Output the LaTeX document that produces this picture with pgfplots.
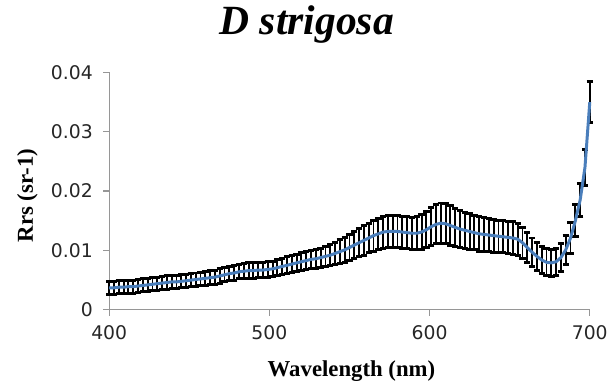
\documentclass[border=0pt]{standalone}
\usepackage{pgfplots}
\pgfplotsset{compat=1.18}
\usepackage{pgfplotstable}
\usepackage{fontspec}
\setmainfont{Liberation Serif}
\newfontfamily\tickfont{DejaVu Sans}
\definecolor{excelblue}{RGB}{74,126,187}
\definecolor{axgray}{RGB}{150,150,150}
\pgfplotstableread{
nm m e
400 0.0037 0.0011
403 0.0037 0.0011
406 0.0038 0.0011
409 0.0038 0.0011
412 0.0039 0.0011
415 0.0039 0.0011
418 0.0040 0.0011
421 0.0041 0.0011
424 0.0042 0.0011
427 0.0043 0.0011
430 0.0044 0.0011
433 0.0045 0.0011
436 0.0046 0.0011
439 0.0047 0.0011
442 0.0047 0.0011
445 0.0048 0.0011
448 0.0049 0.0011
451 0.0050 0.0011
454 0.0051 0.0011
457 0.0052 0.0011
460 0.0053 0.0012
463 0.0054 0.0012
466 0.0055 0.0012
469 0.0057 0.0012
472 0.0059 0.0012
475 0.0061 0.0012
478 0.0062 0.0012
481 0.0064 0.0012
484 0.0065 0.0013
487 0.0066 0.0013
490 0.0066 0.0013
493 0.0067 0.0013
496 0.0067 0.0013
499 0.0068 0.0013
502 0.0069 0.0013
505 0.0071 0.0013
508 0.0073 0.0014
511 0.0075 0.0014
514 0.0077 0.0014
517 0.0079 0.0014
520 0.0081 0.0015
523 0.0083 0.0015
526 0.0085 0.0015
529 0.0086 0.0016
532 0.0088 0.0016
535 0.0090 0.0017
538 0.0092 0.0018
541 0.0095 0.0019
544 0.0098 0.0020
547 0.0101 0.0021
550 0.0105 0.0022
553 0.0109 0.0023
556 0.0113 0.0024
559 0.0117 0.0025
562 0.0121 0.0025
565 0.0125 0.0026
568 0.0128 0.0026
571 0.0131 0.0027
574 0.0132 0.0027
577 0.0132 0.0027
580 0.0132 0.0027
583 0.0131 0.0027
586 0.0130 0.0027
589 0.0129 0.0027
592 0.0129 0.0028
595 0.0131 0.0029
598 0.0135 0.0030
601 0.0140 0.0032
604 0.0144 0.0033
607 0.0146 0.0034
610 0.0145 0.0034
613 0.0142 0.0033
616 0.0139 0.0032
619 0.0136 0.0031
622 0.0134 0.0030
625 0.0132 0.0030
628 0.0130 0.0029
631 0.0128 0.0029
634 0.0127 0.0028
637 0.0126 0.0028
640 0.0125 0.0028
643 0.0124 0.0027
646 0.0123 0.0027
649 0.0122 0.0027
652 0.0121 0.0027
655 0.0119 0.0027
658 0.0113 0.0026
661 0.0105 0.0025
664 0.0097 0.0024
667 0.0090 0.0023
670 0.0084 0.0023
673 0.0080 0.0023
676 0.0079 0.0023
679 0.0081 0.0023
682 0.0088 0.0024
685 0.0101 0.0025
688 0.0121 0.0026
691 0.0150 0.0027
694 0.0185 0.0028
697 0.0240 0.0030
700 0.0350 0.0035
}\spectrum
\begin{document}
\begin{tikzpicture}
\begin{axis}[
  at={(0,0)}, anchor=south west,
  scale only axis, width=484bp, height=239bp,
  xmin=400, xmax=700, ymin=0, ymax=0.04,
  scaled y ticks=false, scaled x ticks=false,
  axis lines*=left,
  axis line style={axgray, line width=1.3bp},
  tick style={axgray, line width=1.3bp},
  tick align=outside, major tick length=6bp,
  xtick={400,500,600,700},
  xticklabels={400,500,600,700},
  ytick={0,0.01,0.02,0.03,0.04},
  yticklabels={0,0.01,0.02,0.03,0.04},
  ticklabel style={font=\tickfont\fontsize{19}{19}\selectfont, text=black!85},
  yticklabel style={xshift=-7bp},
  xticklabel style={yshift=-6bp},
  clip=false,
]
\addplot[draw=none, mark=none, forget plot,
  error bars/.cd, y dir=both, y explicit,
  error bar style={draw=black, line width=1.9bp},
  error mark options={draw=black, line width=3bp, mark size=3.2bp, rotate=90}]
  table[x=nm, y=m, y error=e] {\spectrum};
\addplot[color=excelblue, line width=3bp, mark=none]
  table[x=nm, y=m] {\spectrum};
\end{axis}
\node[anchor=base, inner sep=0] at (199bp,277bp) {\fontsize{42}{42}\selectfont\bfseries\itshape D strigosa};
\node[anchor=base, inner sep=0] at (244bp,-67bp) {\fontsize{23}{23}\selectfont\bfseries Wavelength (nm)};
\node[anchor=base, inner sep=0, rotate=90] at (-77bp,115bp) {\fontsize{23}{23}\selectfont\bfseries Rrs (sr-1)};
\path (-110bp,-75bp) rectangle (501bp,312bp);
\end{tikzpicture}
\end{document}
